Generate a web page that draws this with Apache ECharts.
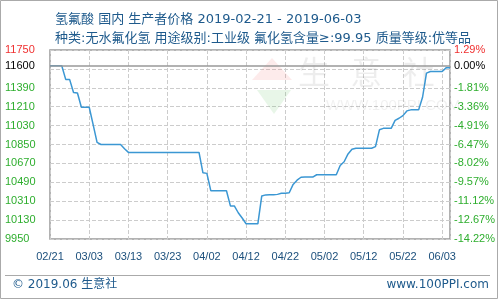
<!DOCTYPE html>
<html>
<head>
<meta charset="utf-8">
<script src="https://cdn.jsdelivr.net/npm/echarts@6/dist/echarts.min.js"></script>
<style>html,body{margin:0;padding:0;background:#fff}#c{width:500px;height:300px}</style>
</head>
<body>
<div id="c"></div>
<script>
// ---- data ----
const titleLine1 = '氢氟酸 国内 生产者价格 2019-02-21 - 2019-06-03';
const titleLine2 = '种类:无水氟化氢 用途级别:工业级 氟化氢含量≥:99.95 质量等级:优等品';
const xTickLabels = ['02/21','03/03','03/13','03/23','04/02','04/12','04/22','05/02','05/12','05/22','06/03'];
const basePrice = 11600;
const yGridValues = [9950,10130,10310,10490,10670,10850,11030,11210,11390,11570,11750];
const yLabelValues = [9950,10130,10310,10490,10670,10850,11030,11210,11390,11600,11750];
// daily prices from 02/21 (day 0) to 06/03 (day 102)
const priceValues = [
  11600,11600,11600,11600,11470,11470,11345,11340,11205,11205,
  11205,11040,10870,10850,10850,10850,10850,10850,10850,10810,
  10775,10775,10775,10775,10775,10775,10775,10775,10775,10775,
  10775,10775,10775,10775,10775,10775,10775,10775,10775,10580,
  10575,10410,10410,10410,10410,10410,10265,10265,10200,10150,
  10095,10095,10095,10095,10360,10370,10372,10372,10375,10385,
  10385,10390,10470,10510,10538,10540,10540,10540,10562,10562,
  10562,10562,10562,10562,10650,10686,10760,10805,10814,10814,
  10814,10814,10814,10830,10990,11004,11004,11004,11080,11100,
  11125,11170,11180,11180,11180,11300,11530,11545,11545,11545,
  11545,11580,11580
];

const CJK = "'DejaVu Sans','Noto Sans CJK SC',sans-serif";
const NUM = "'Liberation Sans',sans-serif";
const titleColor = '#1e5a8c';
const red = '#f03030', green = '#2eae2e', black = '#000';

function labelColor(v) {
  v = Number(v);
  if (v === 11750) return red;
  if (v === basePrice) return black;
  return green;
}

const chart = echarts.init(document.getElementById('c'), null, {renderer: 'canvas'});
const option = {
  animation: false,
  backgroundColor: '#fff',
  title: [
    {text: titleLine1, left: 50, top: 8, textStyle: {fontSize: 13, fontWeight: 'normal', color: titleColor, fontFamily: CJK}},
    {text: titleLine2, left: 50, top: 27, textStyle: {fontSize: 13, fontWeight: 'normal', color: titleColor, fontFamily: CJK}}
  ],
  grid: {left: 50, right: 50, top: 50, bottom: 61, show: true, borderColor: '#999', borderWidth: 1.5, backgroundColor: 'transparent'},
  xAxis: {
    type: 'value', min: 0, max: 102, interval: 10,
    axisLine: {show: false}, axisTick: {show: false},
    splitLine: {show: true, lineStyle: {type: 'dashed', color: '#ccc'}},
    axisLabel: {
      formatter: v => (v % 10 === 0 ? xTickLabels[v / 10] : ''),
      color: '#1b4f7c', fontSize: 11, fontFamily: NUM, margin: 12
    }
  },
  yAxis: [
    {
      type: 'value', min: 9950, max: 11750, position: 'left',
      axisLine: {show: false},
      axisTick: {show: false, customValues: yGridValues},
      splitLine: {show: true, lineStyle: {type: 'dashed', color: '#ccc'}},
      axisLabel: {
        customValues: yLabelValues, align: 'left', margin: 45, color: labelColor, fontSize: 11, fontFamily: NUM,
        formatter: v => String(v)
      }
    },
    {
      type: 'value', min: 9950, max: 11750, position: 'right',
      axisLine: {show: false},
      axisTick: {show: false, customValues: yGridValues},
      splitLine: {show: false},
      axisLabel: {
        customValues: yLabelValues, align: 'left', margin: 4, color: labelColor, fontSize: 11, fontFamily: NUM,
        formatter: v => ((v / basePrice - 1) * 100).toFixed(2) + '%'
      }
    }
  ],
  graphic: [
    {type: 'rect', shape: {x: 0.5, y: 0.5, width: 497, height: 298}, style: {fill: 'none', stroke: '#aaa', lineWidth: 1}, silent: true},
    {type: 'polygon', shape: {points: [[272,58],[292,80],[252,80]]}, style: {fill: 'rgba(235,90,90,0.12)'}, z: 1, silent: true},
    {type: 'polygon', shape: {points: [[257,90],[291,90],[274,114]]}, style: {fill: 'rgba(90,190,90,0.14)'}, z: 1, silent: true},
    {type: 'text', x: 298, y: 60, style: {text: '生  意  社', fill: 'rgba(0,0,0,0.07)', fontSize: 32, fontFamily: CJK}, z: 1, silent: true},
    {type: 'text', x: 326, y: 98, style: {text: 'WWW.100PPI.COM', fill: 'rgba(0,0,0,0.06)', fontSize: 15, fontFamily: NUM}, z: 1, silent: true},
    {type: 'line', shape: {x1: 5, y1: 275.5, x2: 490, y2: 275.5}, style: {stroke: '#aaa', lineWidth: 1}, silent: true},
    {type: 'text', x: 12, y: 279, style: {text: '© 2019.06 生意社', fill: titleColor, fontSize: 12, fontFamily: CJK}, silent: true},
    {type: 'text', x: 489, y: 279, style: {text: 'www.100PPI.com', fill: titleColor, fontSize: 12, fontFamily: CJK, align: 'right'}, silent: true}
  ],
  series: [{
    type: 'line',
    xAxisIndex: 0, yAxisIndex: 0,
    data: priceValues.map((v, i) => [i, v]),
    showSymbol: false,
    lineStyle: {color: '#3b97d3', width: 1.5},
    itemStyle: {color: '#3b97d3'},
    markLine: {
      symbol: 'none', silent: true, label: {show: false},
      lineStyle: {color: '#999', type: 'solid', width: 1.5},
      data: [{yAxis: basePrice}]
    },
    z: 3
  }]
};
chart.setOption(option);
</script>
</body>
</html>
